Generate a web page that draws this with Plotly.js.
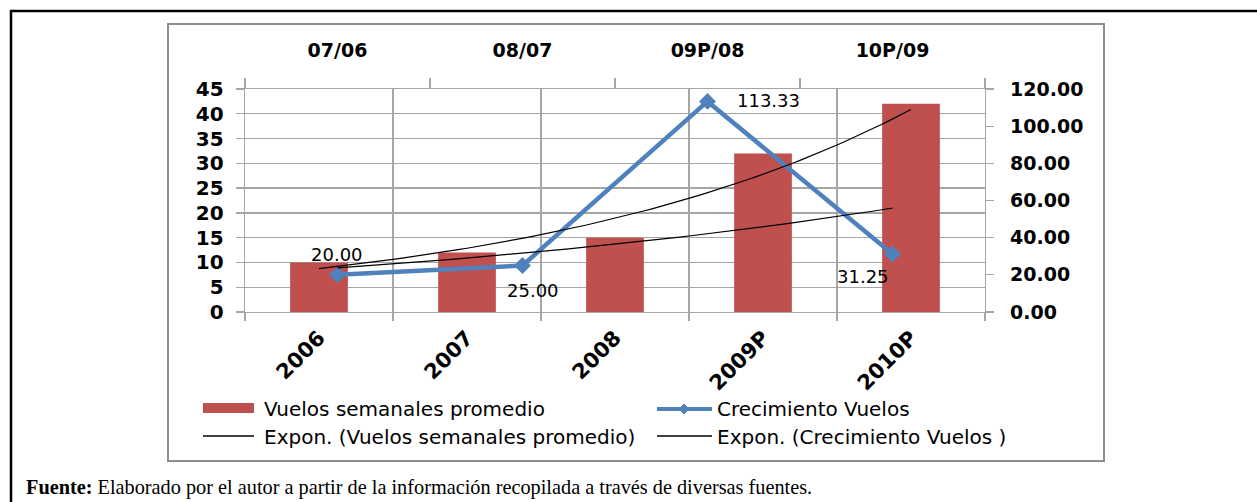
<!DOCTYPE html>
<html>
<head>
<meta charset="utf-8">
<script src="https://cdn.plot.ly/plotly-3.0.1.min.js"></script>
<style>html,body{margin:0;padding:0;background:#fff;}#chart{width:1257px;height:502px;}</style>
</head>
<body>
<div id="chart"></div>
<script>
// ---- data ----
const categories = ['2006', '2007', '2008', '2009P', '2010P'];
const vuelosSemanales = [10, 12, 15, 32, 42];
const periods = ['07/06', '08/07', '09P/08', '10P/09'];
const crecimiento = [20.00, 25.00, 113.33, 31.25];
const seriesNames = ['Vuelos semanales promedio', 'Crecimiento Vuelos',
  'Expon. (Vuelos semanales promedio)', 'Expon. (Crecimiento Vuelos )'];
const sourceText = '<b>Fuente:</b> Elaborado por el autor a partir de la información recopilada a través de diversas fuentes.';

// ---- exponential trend (least squares on ln y, like Excel) ----
function expFit(ys) {
  const n = ys.length;
  const xs = ys.map((_, i) => i);
  const ly = ys.map(v => Math.log(v));
  const mx = xs.reduce((a, b) => a + b, 0) / n;
  const my = ly.reduce((a, b) => a + b, 0) / n;
  let sxy = 0, sxx = 0;
  for (let i = 0; i < n; i++) { sxy += (xs[i] - mx) * (ly[i] - my); sxx += (xs[i] - mx) ** 2; }
  const b = sxy / sxx, a = my - b * mx;
  const tx = [], ty = [];
  for (let k = 0; k <= (n - 1) * 20; k++) { const t = k / 20; tx.push(t); ty.push(Math.exp(a + b * t)); }
  return { x: tx, y: ty };
}
const trendV = expFit(vuelosSemanales);
const trendC = expFit(crecimiento);

// ---- geometry helpers (pixel -> paper) ----
const W = 1257, H = 502;
const M = { l: 245, r: 272, t: 89, b: 190 };
const PW = W - M.l - M.r, PH = H - M.t - M.b;
const px = x => (x - M.l) / PW;
const py = y => 1 - (y - M.t) / PH;

const GRID = '#a6a6a6';
const RED = '#c0504d';
const BLUE = '#4f81bd';
const TXT = 'DejaVu Sans, Arial, sans-serif';

const traces = [
  { type: 'bar', x: categories, y: vuelosSemanales, xaxis: 'x', yaxis: 'y', name: seriesNames[0],
    marker: { color: RED }, width: 0.39, hoverinfo: 'x+y' },
  { type: 'scatter', mode: 'lines', x: trendV.x, y: trendV.y, xaxis: 'x3', yaxis: 'y', name: seriesNames[2],
    line: { color: '#000', width: 1.2 }, hoverinfo: 'skip' },
  { type: 'scatter', mode: 'lines', x: trendC.x, y: trendC.y, xaxis: 'x4', yaxis: 'y2', name: seriesNames[3],
    line: { color: '#000', width: 1.2 }, hoverinfo: 'skip' },
  { type: 'scatter', mode: 'lines+markers', x: periods, y: crecimiento, xaxis: 'x2', yaxis: 'y2', name: seriesNames[1],
    line: { color: BLUE, width: 4.5 }, marker: { symbol: 'diamond', size: 13, color: BLUE } }
];

const tickBold = (s) => ({ family: TXT, size: s, color: '#000', weight: 'bold' });

// data labels: offsets in px relative to point
const labelOffsets = [[-1, 20], [10, -25], [61, 1], [-30, -23]];
const annotations = crecimiento.map((v, i) => ({
  xref: 'x2', yref: 'y2', x: periods[i], y: v, text: v.toFixed(2), showarrow: false,
  xshift: labelOffsets[i][0], yshift: labelOffsets[i][1],
  font: { family: TXT, size: 18, color: '#000' }
}));

// legend texts
const legendPos = [[262, 409], [715, 409], [262, 437], [715, 437]];
seriesNames.forEach((t, i) => annotations.push({
  xref: 'paper', yref: 'paper', x: px(legendPos[i][0]), y: py(legendPos[i][1]),
  xanchor: 'left', yanchor: 'middle', text: t, showarrow: false,
  font: { family: TXT, size: 20, color: '#000' }
}));
// source
annotations.push({
  xref: 'paper', yref: 'paper', x: px(24), y: py(487), xanchor: 'left', yanchor: 'middle',
  text: sourceText, showarrow: false,
  font: { family: 'Liberation Serif, Times New Roman, serif', size: 20.3, color: '#000' }
});

const shapes = [
  // outer black frame (top and left)
  { type: 'line', xref: 'paper', yref: 'paper', x0: px(10), x1: px(1257), y0: py(11), y1: py(11), line: { color: '#000', width: 2.5 } },
  { type: 'line', xref: 'paper', yref: 'paper', x0: px(11), x1: px(11), y0: py(10), y1: py(502), line: { color: '#000', width: 2.5 } },
  // chart area gray box
  { type: 'rect', xref: 'paper', yref: 'paper', x0: px(168), x1: px(1104), y0: py(24), y1: py(461), line: { color: '#8c8c8c', width: 2 } },
  // legend swatches
  { type: 'rect', xref: 'paper', yref: 'paper', x0: px(203), x1: px(254), y0: py(403), y1: py(413), fillcolor: RED, line: { width: 0 } },
  { type: 'line', xref: 'paper', yref: 'paper', x0: px(657), x1: px(712), y0: py(409), y1: py(409), line: { color: BLUE, width: 4 } },
  { type: 'path', xref: 'paper', yref: 'paper',
    path: `M${px(684)},${py(404)} L${px(689)},${py(409)} L${px(684)},${py(414)} L${px(679)},${py(409)} Z`,
    fillcolor: BLUE, line: { color: BLUE, width: 1 } },
  { type: 'line', xref: 'paper', yref: 'paper', x0: px(203), x1: px(254), y0: py(436), y1: py(436), line: { color: '#000', width: 1.3 } },
  { type: 'line', xref: 'paper', yref: 'paper', x0: px(657), x1: px(712), y0: py(436), y1: py(436), line: { color: '#000', width: 1.3 } }
];

const layout = {
  width: W, height: H, autosize: false,
  margin: { l: M.l, r: M.r, t: M.t, b: M.b, pad: 0 },
  paper_bgcolor: '#fff', plot_bgcolor: '#fff',
  showlegend: false,
  font: { family: TXT, color: '#000' },
  xaxis: {
    type: 'category', range: [-0.5, categories.length - 0.5], tickson: 'boundaries',
    showgrid: true, gridcolor: GRID, gridwidth: 1.3,
    ticks: 'outside', ticklen: 8, tickcolor: GRID, tickwidth: 1.3,
    showline: true, linecolor: GRID, linewidth: 1.3,
    tickangle: -45, tickfont: tickBold(21), ticklabelstandoff: 4,
    zeroline: false, fixedrange: true, anchor: 'y'
  },
  xaxis2: {
    type: 'category', overlaying: 'x', side: 'top', anchor: 'y2',
    range: [-0.5, periods.length - 0.5], tickson: 'boundaries',
    showgrid: false, ticks: 'outside', ticklen: 10, tickcolor: GRID, tickwidth: 1.3,
    showline: true, linecolor: GRID, linewidth: 1.3,
    tickangle: 0, tickfont: tickBold(19), ticklabelstandoff: 23, fixedrange: true
  },
  xaxis3: { overlaying: 'x', anchor: 'y', range: [-0.5, categories.length - 0.5], visible: false, fixedrange: true },
  xaxis4: { overlaying: 'x', anchor: 'y2', range: [-0.5, periods.length - 0.5], visible: false, fixedrange: true },
  yaxis: {
    range: [0, 45], tick0: 0, dtick: 5, showgrid: true, gridcolor: GRID, gridwidth: 1.3,
    ticks: 'outside', ticklen: 8, tickcolor: GRID, tickwidth: 1.3,
    showline: true, linecolor: GRID, linewidth: 1.3, zeroline: false,
    tickfont: tickBold(20), ticklabelstandoff: 8, fixedrange: true
  },
  yaxis2: {
    overlaying: 'y', side: 'right', anchor: 'x', range: [0, 120], tick0: 0, dtick: 20, tickformat: '.2f',
    showgrid: false, ticks: 'outside', ticklen: 8, tickcolor: GRID, tickwidth: 1.3,
    showline: true, linecolor: GRID, linewidth: 1.3, zeroline: false,
    tickfont: tickBold(19), ticklabelstandoff: 12, fixedrange: true
  },
  annotations: annotations,
  shapes: shapes
};

Plotly.newPlot('chart', traces, layout, { displayModeBar: false, staticPlot: true });
</script>
</body>
</html>
